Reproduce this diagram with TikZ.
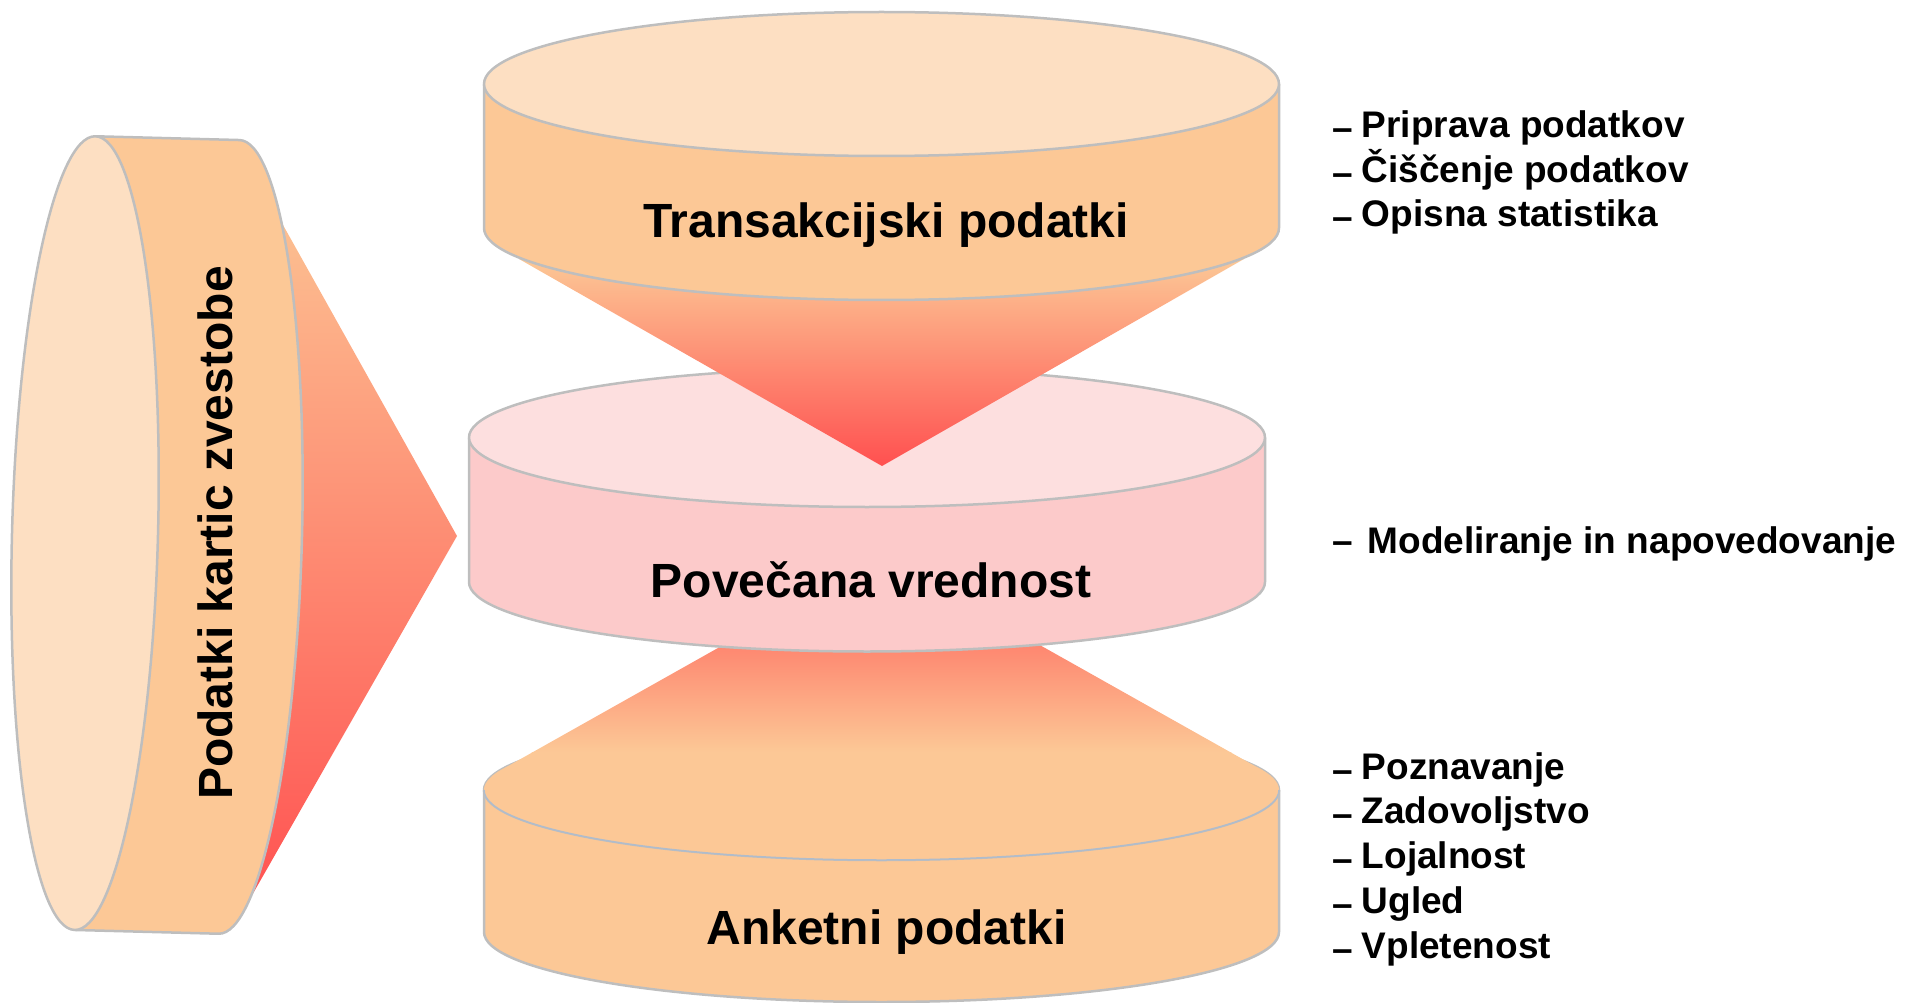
\documentclass[tikz,border=0pt]{standalone}
\usepackage{fontspec}
\setmainfont{Liberation Sans}

\definecolor{bodyOrange}{RGB}{252,200,150}
\definecolor{faceOrange}{RGB}{253,223,194}
\definecolor{pinkBody}{RGB}{252,202,202}
\definecolor{pinkTop}{RGB}{253,223,223}
\definecolor{funnelRed}{RGB}{255,80,80}
\definecolor{funnelMid}{RGB}{254,160,128}
\definecolor{rimGray}{RGB}{190,190,190}
\definecolor{frontLine}{RGB}{176,188,203}

\newcommand{\lowdash}{\raisebox{-3pt}{--}\hspace{9pt}}

\begin{document}
\begin{tikzpicture}[x=1pt,y=-1pt,
  rim/.style={draw=rimGray, line width=2.5pt, line join=round},
  biglabel/.style={font=\bfseries\fontsize{48}{56}\selectfont, inner sep=0pt, anchor=base},
  itemtext/.style={font=\bfseries\fontsize{37}{44}\selectfont, inner sep=0pt, anchor=base west}]

\useasboundingbox (0,0) rectangle (1907,1003);

% ---------- left cone (behind the lying cylinder) ----------
\shade[top color=bodyOrange, middle color=funnelMid, bottom color=funnelRed]
  (250,166) -- (457,536) -- (239,918) -- cycle;

% ---------- lying cylinder: loyalty card data (slightly tilted) ----------
\begin{scope}[rotate around={-1.5:(157,535)}]
  \fill[bodyOrange] (85,138) -- (229,138)
    arc[start angle=-90, end angle=90, x radius=73, y radius=397] -- (85,932) -- cycle;
  \draw[rim] (85,138) -- (229,138)
    arc[start angle=-90, end angle=90, x radius=73, y radius=397] -- (85,932);
  \draw[rim, fill=faceOrange] (85,535) ellipse [x radius=73, y radius=397];
\end{scope}
\node[biglabel, rotate=90] (loyalty) at (232,533) {Podatki kartic zvestobe};

% ---------- bottom cylinder: survey data ----------
\fill[bodyOrange] (484,790) -- (484,932)
  arc[start angle=180, end angle=0, x radius=397.5, y radius=70] -- (1279,790)
  arc[start angle=0, end angle=-180, x radius=397.5, y radius=70] -- cycle;
\draw[rim] (484,790) -- (484,932)
  arc[start angle=180, end angle=0, x radius=397.5, y radius=70] -- (1279,790);
\draw[rim, fill=faceOrange] (881.5,790) ellipse [x radius=397.5, y radius=70];

% lower funnel rising from the survey cylinder
\begin{scope}
  \clip (881.5,556) -- (508,766.1)
    arc[start angle=200, end angle=-20, x radius=397.5, y radius=70] -- cycle;
  \shade[top color=funnelRed, bottom color=bodyOrange] (470,556) rectangle (1290,752);
  \fill[bodyOrange] (470,752) rectangle (1290,880);
\end{scope}
\draw[frontLine, line width=1.5pt] (484,790)
  arc[start angle=180, end angle=0, x radius=397.5, y radius=70];

% ---------- middle cylinder: added value ----------
\fill[pinkBody] (469,437.5) -- (469,582)
  arc[start angle=180, end angle=0, x radius=398, y radius=69.5] -- (1265,437.5) -- cycle;
\draw[rim] (469,437.5) -- (469,582)
  arc[start angle=180, end angle=0, x radius=398, y radius=69.5] -- (1265,437.5);
\draw[rim, fill=pinkTop] (867,437.5) ellipse [x radius=398, y radius=69.5];

% upper funnel pointing down into the middle cylinder
\shade[top color=bodyOrange, middle color=funnelMid, bottom color=funnelRed]
  (519,259) -- (1244,259) -- (882,466) -- cycle;

% ---------- top cylinder: transaction data ----------
\fill[bodyOrange] (484,84) -- (484,228)
  arc[start angle=180, end angle=0, x radius=397.5, y radius=72] -- (1279,84) -- cycle;
\draw[rim] (484,84) -- (484,228)
  arc[start angle=180, end angle=0, x radius=397.5, y radius=72] -- (1279,84);
\draw[rim, fill=faceOrange] (881.5,84) ellipse [x radius=397.5, y radius=72];

% ---------- cylinder labels ----------
\node[biglabel] (trans) at (886,238) {Transakcijski podatki};
\node[biglabel] (value) at (871,597) {Povečana vrednost};
\node[biglabel] (survey) at (886.5,944) {Anketni podatki};

% ---------- task lists ----------
\node[itemtext] (t1) at (1332,138) {\lowdash Priprava podatkov};
\node[itemtext] (t2) at (1332,182.5) {\lowdash Čiščenje podatkov};
\node[itemtext] (t3) at (1332,227) {\lowdash Opisna statistika};

\node[itemtext] (m1) at (1332,553) {--\hspace{15pt}Modeliranje in napovedovanje};

\node[itemtext] (s1) at (1332,779) {\lowdash Poznavanje};
\node[itemtext] (s2) at (1332,823.75) {\lowdash Zadovoljstvo};
\node[itemtext] (s3) at (1332,868.5) {\lowdash Lojalnost};
\node[itemtext] (s4) at (1332,913.25) {\lowdash Ugled};
\node[itemtext] (s5) at (1332,958) {\lowdash Vpletenost};

\end{tikzpicture}
\end{document}
